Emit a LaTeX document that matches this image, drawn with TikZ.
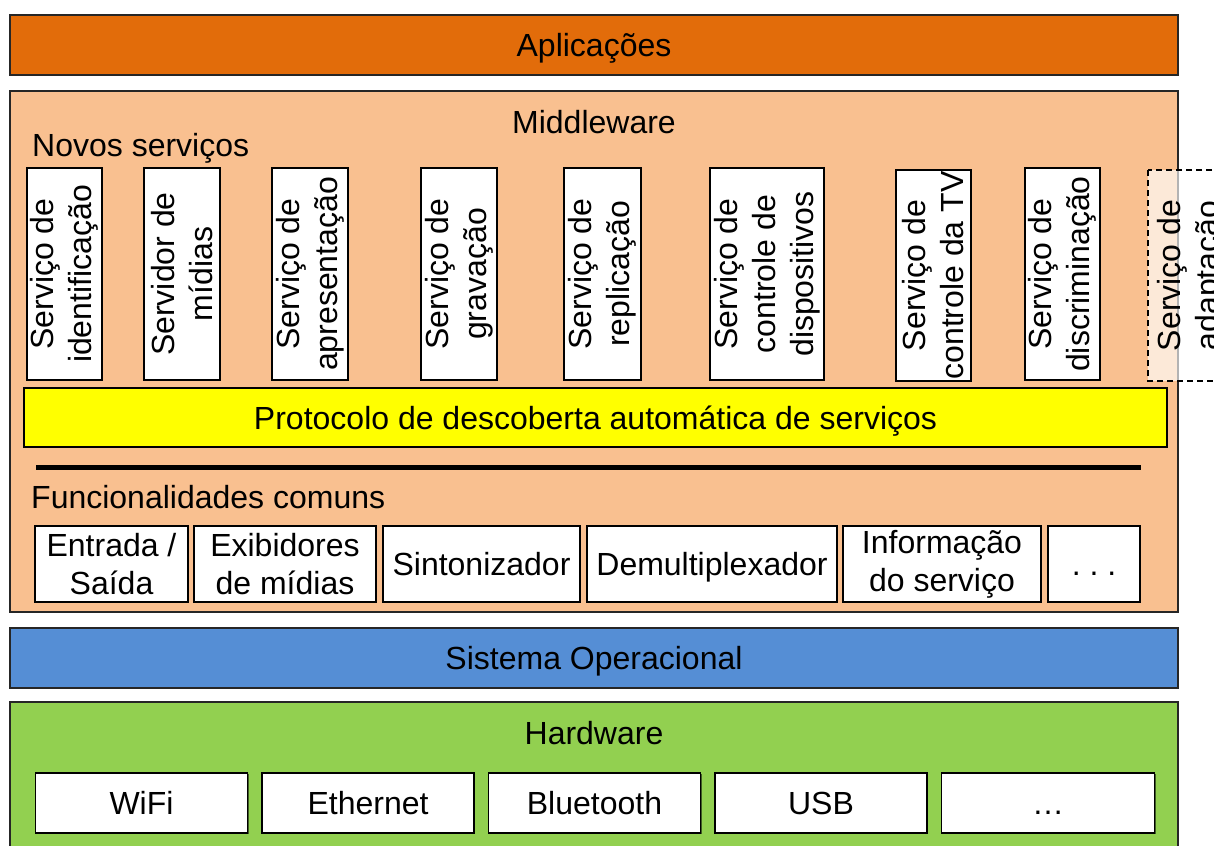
\documentclass[tikz,border=0pt]{standalone}
\usepackage{fontspec}
\setmainfont{Liberation Sans}
\usetikzlibrary{shadows}
\definecolor{apporange}{RGB}{226,108,10}
\definecolor{mwpeach}{RGB}{249,192,144}
\definecolor{osblue}{RGB}{85,142,213}
\definecolor{hwgreen}{RGB}{146,208,80}
\definecolor{protoyellow}{RGB}{255,255,0}
\newcommand\fsz{\fontsize{32}{38}\selectfont}
\begin{document}
\begin{tikzpicture}[x=1pt,y=-1pt,
  oneline/.style={text height=23pt, text depth=0pt},
  layer/.style={draw=black!85, line width=1.3pt, rectangle, inner sep=0pt, font=\fsz, anchor=center},
  lbl/.style={inner sep=0pt, font=\fsz},
  hbox/.style={draw=black, line width=1.2pt, fill=white, rectangle, inner sep=0pt, font=\fsz, align=center,
    drop shadow={shadow xshift=1.2pt, shadow yshift=-1.2pt, opacity=0.55, fill=black}},
  vbox/.style={draw=black, line width=1.2pt, fill=white, rectangle, inner sep=0pt, font=\fsz, align=center,
    rotate=90, minimum width=212pt},
  dashbox/.style={draw=black, line width=1.2pt, dash pattern=on 6pt off 4pt, fill=white, fill opacity=0.65,
    text opacity=1, rectangle, inner sep=0pt, font=\fsz, align=center, rotate=90, minimum width=211pt}
]
\useasboundingbox (0,0) rectangle (1214,845);

% Layers
\node[layer, oneline, fill=apporange, minimum width=1168pt, minimum height=60pt] (apl) at (594,45) {Aplicações};
\node[layer, fill=mwpeach, minimum width=1168pt, minimum height=521pt] (mw) at (594,351.5) {};
\node[lbl, oneline] (mwt) at (594,122) {Middleware};
\node[lbl, anchor=base west] (novos) at (32,157) {Novos serviços};

% Vertical service boxes
\node[vbox, minimum height=75pt] (s1) at (64.5,274) {Serviço de\\identificação};
\node[vbox, minimum height=76pt] (s2) at (182,274) {Servidor de\\mídias};
\node[vbox, minimum height=76pt] (s3) at (310,274) {Serviço de\\apresentação};
\node[vbox, minimum height=76pt] (s4) at (459,274) {Serviço de\\gravação};
\node[vbox, minimum height=77pt] (s5) at (602.5,274) {Serviço de\\replicação};
\node[vbox, minimum height=114pt] (s6) at (767,274) {Serviço de\\controle de\\dispositivos};
\node[vbox, minimum height=75pt, minimum width=211pt] (s7) at (933.5,275.5) {Serviço de\\controle da TV};
\node[vbox, minimum height=75pt] (s8) at (1062.5,274) {Serviço de\\discriminação};
\node[dashbox, minimum height=86pt] (s9) at (1191,275.5) {Serviço de\\adaptação};

% Protocol bar
\node[hbox, oneline, fill=protoyellow, minimum width=1143pt, minimum height=59pt] (proto) at (595.5,417.5)
  {Protocolo de descoberta automática de serviços};

% Separator
\coordinate (sepL) at (36,467);
\coordinate (sepR) at (1141,467);
\draw[line width=5pt] (sepL) -- (sepR);

\node[lbl, anchor=base west] (func) at (31,508) {Funcionalidades comuns};

% Common functionality boxes
\node[hbox, minimum width=153pt, minimum height=76pt] (f1) at (111.5,564) {Entrada /\\Saída};
\node[hbox, minimum width=182pt, minimum height=76pt] (f2) at (285,564) {Exibidores\\de mídias};
\node[hbox, oneline, minimum width=197pt, minimum height=76pt] (f3) at (481.5,564) {Sintonizador};
\node[hbox, oneline, minimum width=250pt, minimum height=76pt] (f4) at (712,564) {Demultiplexador};
\node[hbox, minimum width=198pt, minimum height=76pt] (f5) at (942,564) {Informação\\do serviço};
\node[hbox, oneline, minimum width=92pt, minimum height=76pt] (f6) at (1094,564) {.\ .\ .};

% Operating system
\node[layer, oneline, fill=osblue, minimum width=1168pt, minimum height=60pt] (os) at (594,658) {Sistema Operacional};

% Hardware
\node[layer, fill=hwgreen, minimum width=1168pt, minimum height=170pt] (hw) at (594,787) {};
\node[lbl, oneline] (hwt) at (594,733) {Hardware};
\node[hbox, oneline, minimum width=212pt, minimum height=60pt] (h1) at (141.5,803) {WiFi};
\node[hbox, oneline, minimum width=212pt, minimum height=60pt] (h2) at (368,803) {Ethernet};
\node[hbox, oneline, minimum width=212pt, minimum height=60pt] (h3) at (594.5,803) {Bluetooth};
\node[hbox, oneline, minimum width=212pt, minimum height=60pt] (h4) at (821,803) {USB};
\node[hbox, oneline, minimum width=213pt, minimum height=60pt] (h5) at (1048,803) {…};
\end{tikzpicture}
\end{document}
